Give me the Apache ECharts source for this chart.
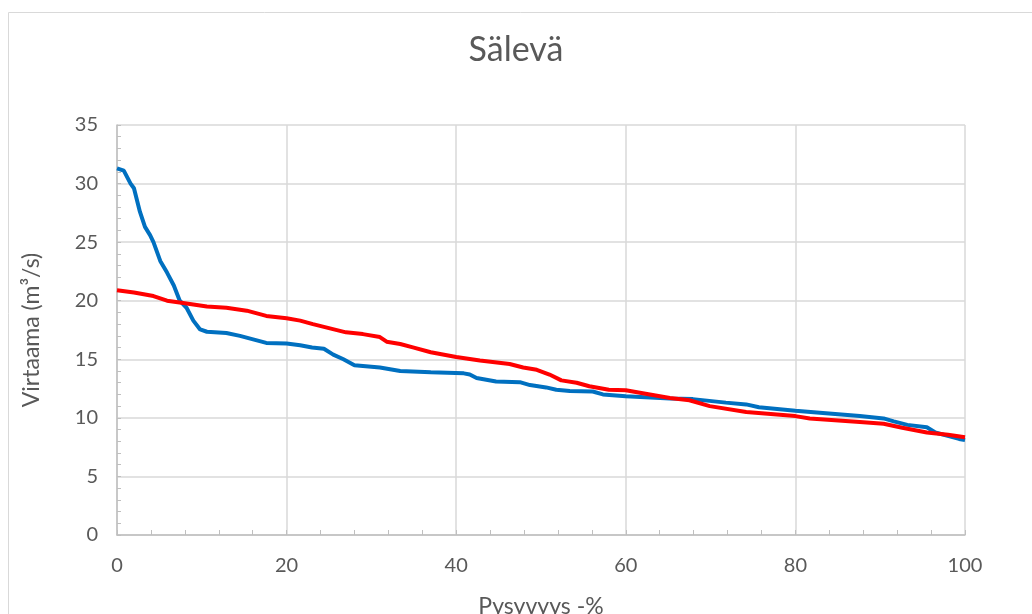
<!DOCTYPE html>
<html>
<head>
<meta charset="utf-8">
<script src="https://cdn.jsdelivr.net/npm/echarts@6/dist/echarts.min.js"></script>
<style>
  html, body { margin: 0; padding: 0; background: #fff; }
  #chart { width: 1032px; height: 614px; }
</style>
</head>
<body>
<div id="chart"></div>
<script>
// pysyvyys (%) ja virtaama (m3/s), luettu kuvasta
var blueX = [0, 0.8, 1.6, 2.0, 2.7, 3.3, 3.9, 4.3, 5.1, 5.9, 6.7, 7.4, 8.2, 9.0, 9.8, 10.6, 12.9, 14.5, 17.6, 20, 21.6, 23, 24.4, 25.5, 26.7, 28, 31, 33.4, 37, 40.9, 41.6, 42.4, 44.7, 47.5, 48.7, 50.6, 51.8, 53.4, 56.1, 57.3, 60, 65.2, 67.9, 71.8, 74.2, 75.7, 80, 83.6, 87.6, 90.4, 91.6, 93.2, 95.5, 96.5, 98.3, 99.3, 100];
var blueY = [31.3, 31.1, 30.0, 29.6, 27.6, 26.3, 25.6, 25.0, 23.4, 22.4, 21.3, 20.0, 19.4, 18.3, 17.55, 17.35, 17.25, 17.0, 16.4, 16.35, 16.2, 16.0, 15.9, 15.4, 15.0, 14.5, 14.3, 14.0, 13.9, 13.8, 13.7, 13.4, 13.1, 13.05, 12.8, 12.6, 12.4, 12.3, 12.25, 12.0, 11.85, 11.65, 11.6, 11.3, 11.15, 10.9, 10.6, 10.4, 10.15, 9.95, 9.7, 9.4, 9.2, 8.75, 8.4, 8.2, 8.1];

var redX = [0, 2.0, 4.3, 5.9, 7.8, 10.6, 12.9, 15.3, 17.6, 20, 21.6, 23.1, 27, 29, 31, 31.8, 33.4, 35, 37, 40, 42.8, 46.3, 47.9, 49.5, 51, 52.4, 54.2, 55.7, 58, 60, 62, 65.2, 67.5, 69.9, 74.2, 80, 81.7, 87.6, 90.4, 92.6, 95.5, 98, 100];
var redY = [20.9, 20.7, 20.4, 20.0, 19.8, 19.5, 19.4, 19.15, 18.7, 18.5, 18.3, 18.0, 17.3, 17.15, 16.9, 16.5, 16.3, 16.0, 15.6, 15.2, 14.9, 14.6, 14.3, 14.1, 13.7, 13.2, 13.0, 12.7, 12.4, 12.35, 12.1, 11.7, 11.5, 11.0, 10.5, 10.15, 9.95, 9.65, 9.5, 9.15, 8.75, 8.55, 8.35];

function pairs(xs, ys) {
	var out = [];
	for (var i = 0; i < xs.length; i++) {
		out.push([xs[i], ys[i]]);
	}
	return out;
}

var textColor = '#595959';
var fontName = 'Lato';

var chart = echarts.init(document.getElementById('chart'));

var options = {
	animation: false,
	title: {
		text: 'Sälevä',
		left: 'center',
		top: 28,
		textStyle: { fontFamily: fontName, fontSize: 34, fontWeight: 'normal', color: textColor }
	},
	graphic: [{
		type: 'rect',
		shape: { x: 8.5, y: 12.5, width: 1040, height: 620 },
		style: { fill: 'none', stroke: '#d9d9d9', lineWidth: 1 },
		silent: true
	}],
	grid: { left: 117, right: 67, top: 125, bottom: 79, outerBoundsMode: 'none', containLabel: false },
	xAxis: {
		type: 'value',
		min: 0,
		max: 100,
		interval: 20,
		name: 'Pysyvyys -%',
		nameLocation: 'middle',
		nameGap: 60,
		nameTextStyle: { fontFamily: fontName, fontSize: 23, color: textColor },
		axisLine: { lineStyle: { color: '#bfbfbf', width: 1.5 } },
		axisTick: { show: true, inside: true, length: 5, lineStyle: { color: '#bfbfbf' } },
		minorTick: { show: true, splitNumber: 5, length: 5, lineStyle: { color: '#bfbfbf' } },
		axisLabel: { fontFamily: fontName, fontSize: 20, color: textColor, margin: 21 },
		splitLine: { show: true, lineStyle: { color: '#d9d9d9', width: 1.5 } }
	},
	yAxis: {
		type: 'value',
		min: 0,
		max: 35,
		interval: 5,
		name: 'Virtaama (m³/s)',
		nameLocation: 'middle',
		nameGap: 74,
		nameTextStyle: { fontFamily: fontName, fontSize: 23, color: textColor },
		axisLine: { show: true, lineStyle: { color: '#bfbfbf', width: 1.5 } },
		axisTick: { show: true, inside: true, length: 4, lineStyle: { color: '#bfbfbf' } },
		minorTick: { show: true, splitNumber: 5, length: 4, lineStyle: { color: '#bfbfbf' } },
		axisLabel: { fontFamily: fontName, fontSize: 20, color: textColor, margin: 19 },
		splitLine: { show: true, lineStyle: { color: '#d9d9d9', width: 1.5 } }
	},
	series: [
		{
			type: 'line',
			data: pairs(blueX, blueY),
			showSymbol: false,
			lineStyle: { color: '#0070C0', width: 4 },
			itemStyle: { color: '#0070C0' }
		},
		{
			type: 'line',
			data: pairs(redX, redY),
			showSymbol: false,
			lineStyle: { color: '#FF0000', width: 4 },
			itemStyle: { color: '#FF0000' }
		}
	]
};

chart.setOption(options);
</script>
</body>
</html>
